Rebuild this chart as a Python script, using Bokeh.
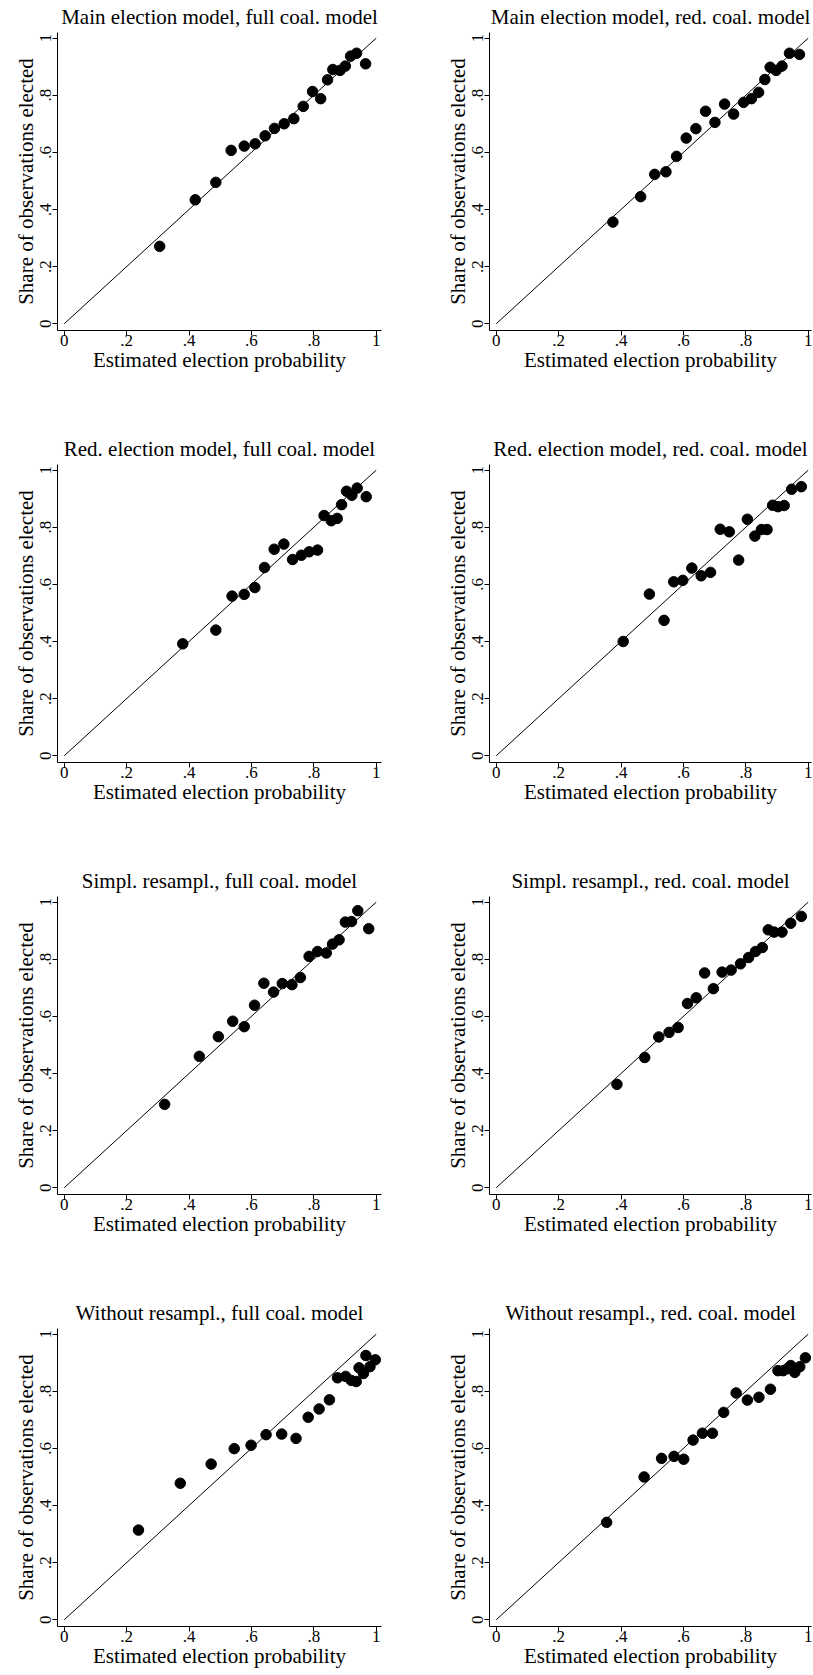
import math
from bokeh.plotting import figure
from bokeh.layouts import column, row
from bokeh.models import Range1d, FixedTicker
from bokeh.embed import file_html
from bokeh.resources import INLINE

# ---------------- data ----------------
titles = [
    "Main election model, full coal. model",
    "Main election model, red. coal. model",
    "Red. election model, full coal. model",
    "Red. election model, red. coal. model",
    "Simpl. resampl., full coal. model",
    "Simpl. resampl., red. coal. model",
    "Without resampl., full coal. model",
    "Without resampl., red. coal. model",
]

x_main_full = [0.306, 0.420, 0.486, 0.535, 0.577, 0.612, 0.644, 0.674, 0.705, 0.736,
               0.766, 0.796, 0.822, 0.844, 0.861, 0.884, 0.901, 0.918, 0.937, 0.966]
y_main_full = [0.271, 0.434, 0.495, 0.607, 0.622, 0.630, 0.658, 0.684, 0.700, 0.718,
               0.761, 0.813, 0.788, 0.854, 0.890, 0.887, 0.902, 0.937, 0.947, 0.910]

x_main_red = [0.374, 0.463, 0.508, 0.544, 0.578, 0.609, 0.640, 0.671, 0.701, 0.732,
              0.761, 0.793, 0.818, 0.841, 0.861, 0.878, 0.897, 0.916, 0.940, 0.972]
y_main_red = [0.356, 0.445, 0.523, 0.532, 0.586, 0.650, 0.683, 0.744, 0.705, 0.769,
              0.734, 0.775, 0.788, 0.810, 0.855, 0.898, 0.887, 0.902, 0.947, 0.943]

x_red_full = [0.380, 0.486, 0.538, 0.577, 0.611, 0.642, 0.673, 0.704, 0.732, 0.760,
              0.785, 0.812, 0.833, 0.856, 0.875, 0.889, 0.905, 0.922, 0.939, 0.968]
y_red_full = [0.392, 0.440, 0.559, 0.565, 0.589, 0.659, 0.723, 0.741, 0.687, 0.702,
              0.714, 0.720, 0.841, 0.823, 0.831, 0.879, 0.926, 0.912, 0.937, 0.907]

x_red_red = [0.407, 0.491, 0.538, 0.569, 0.598, 0.627, 0.657, 0.687, 0.718, 0.747,
             0.777, 0.805, 0.829, 0.850, 0.868, 0.886, 0.903, 0.923, 0.947, 0.978]
y_red_red = [0.400, 0.566, 0.474, 0.609, 0.614, 0.657, 0.630, 0.642, 0.793, 0.784,
             0.685, 0.828, 0.769, 0.792, 0.792, 0.877, 0.872, 0.876, 0.933, 0.942]

x_simpl_full = [0.322, 0.433, 0.494, 0.540, 0.577, 0.610, 0.640, 0.671, 0.699, 0.730,
                0.757, 0.785, 0.812, 0.840, 0.860, 0.881, 0.901, 0.921, 0.941, 0.976]
y_simpl_full = [0.292, 0.460, 0.529, 0.583, 0.564, 0.639, 0.716, 0.685, 0.715, 0.711,
                0.736, 0.810, 0.827, 0.822, 0.853, 0.868, 0.930, 0.932, 0.970, 0.907]

x_simpl_red = [0.387, 0.476, 0.521, 0.554, 0.583, 0.613, 0.641, 0.668, 0.696, 0.724,
               0.753, 0.783, 0.809, 0.831, 0.853, 0.872, 0.891, 0.916, 0.944, 0.978]
y_simpl_red = [0.362, 0.456, 0.528, 0.544, 0.561, 0.645, 0.665, 0.752, 0.697, 0.755,
               0.762, 0.784, 0.806, 0.827, 0.841, 0.903, 0.895, 0.895, 0.926, 0.950]

x_wo_full = [0.238, 0.372, 0.471, 0.545, 0.599, 0.647, 0.697, 0.743, 0.782, 0.817,
             0.850, 0.876, 0.902, 0.920, 0.936, 0.945, 0.959, 0.967, 0.980, 0.997]
y_wo_full = [0.314, 0.478, 0.545, 0.599, 0.611, 0.648, 0.650, 0.635, 0.709, 0.738,
             0.770, 0.847, 0.852, 0.838, 0.834, 0.882, 0.862, 0.925, 0.886, 0.910]

x_wo_red = [0.354, 0.474, 0.530, 0.570, 0.601, 0.631, 0.661, 0.693, 0.729, 0.769,
            0.805, 0.842, 0.879, 0.903, 0.920, 0.933, 0.944, 0.957, 0.973, 0.991]
y_wo_red = [0.341, 0.500, 0.565, 0.572, 0.562, 0.629, 0.653, 0.653, 0.726, 0.794,
            0.769, 0.779, 0.807, 0.872, 0.872, 0.879, 0.890, 0.866, 0.886, 0.917]

ref_x = [0.0, 1.0]
ref_y = [0.0, 1.0]

tick_values = [0.0, 0.2, 0.4, 0.6, 0.8, 1.0]
tick_labels = ["0", ".2", ".4", ".6", ".8", "1"]

x_title = "Estimated election probability"
y_title = "Share of observations elected"

series = [
    (x_main_full, y_main_full), (x_main_red, y_main_red),
    (x_red_full, y_red_full), (x_red_red, y_red_red),
    (x_simpl_full, y_simpl_full), (x_simpl_red, y_simpl_red),
    (x_wo_full, y_wo_full), (x_wo_red, y_wo_red),
]

# ---------------- styling ----------------
FONT = "Liberation Serif"


def make_panel(idx, is_left, is_last_row):
    xs, ys = series[idx]
    width = 432 if is_left else 381
    height = 379 if is_last_row else 432
    bl = 57
    frame_w = 324 if is_left else 322
    br = width - bl - frame_w
    bt = 32
    bb = height - bt - 298
    x_end = -0.0215 + frame_w / 312.0
    p = figure(width=width, height=height, output_backend="svg", toolbar_location=None,
               x_range=Range1d(-0.0215, x_end), y_range=Range1d(-0.0235, 1.0196),
               min_border_left=bl, min_border_right=br, min_border_top=bt,
               min_border_bottom=bb, title=titles[idx])
    p.outline_line_color = None
    p.background_fill_color = "white"
    p.border_fill_color = "white"
    p.grid.visible = False

    p.title.text_font = FONT
    p.title.text_font_size = "21px"
    p.title.text_font_style = "normal"
    p.title.text_color = "black"
    p.title.align = "center"
    p.title.vertical_align = "middle"
    p.title.standoff = 6

    for ax in (p.xaxis[0], p.yaxis[0]):
        ax.ticker = FixedTicker(ticks=tick_values, minor_ticks=[])
        ax.major_label_overrides = {v: l for v, l in zip(tick_values, tick_labels)}
        ax.axis_line_color = "black"
        ax.axis_line_width = 1
        ax.major_tick_line_color = "black"
        ax.major_tick_out = 5
        ax.major_tick_in = 0
        ax.minor_tick_out = 0
        ax.minor_tick_in = 0
        ax.major_label_text_font = FONT
        ax.major_label_text_font_size = "17px"
        ax.major_label_text_color = "black"
        ax.axis_label_text_font = FONT
        ax.axis_label_text_font_size = "21px"
        ax.axis_label_text_font_style = "normal"
        ax.axis_label_text_color = "black"

    p.xaxis[0].axis_label = x_title
    p.xaxis[0].major_label_standoff = -1
    p.xaxis[0].axis_label_standoff = -1
    p.yaxis[0].axis_label = y_title
    p.yaxis[0].major_label_orientation = "vertical"
    p.yaxis[0].major_label_standoff = 1
    p.yaxis[0].axis_label_standoff = 0

    p.line(ref_x, ref_y, line_color="black", line_width=1)
    p.scatter(xs, ys, size=10.5, fill_color="black", line_color="black")
    return p


rows = []
for r in range(4):
    last = (r == 3)
    rows.append(row(make_panel(2 * r, True, last), make_panel(2 * r + 1, False, last)))

layout = column(*rows)

open("out.html", "w").write(file_html(layout, INLINE))
